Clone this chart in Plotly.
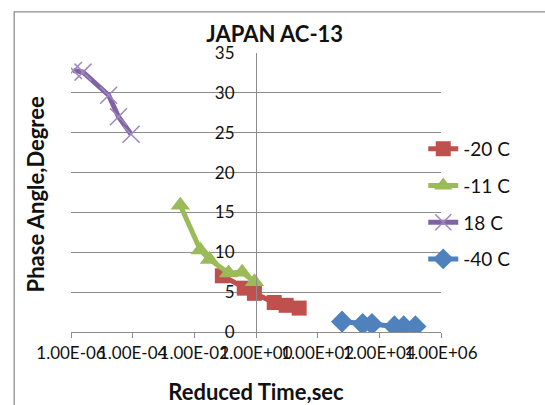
import plotly.graph_objects as go

# ---- data ----
t_m20 = [0.081, 0.417, 0.89, 3.9, 9.5, 25.1]
pa_m20 = [7.05, 5.5, 4.85, 3.7, 3.35, 3.0]

t_m11 = [0.0035, 0.0155, 0.031, 0.129, 0.355, 0.89]
pa_m11 = [15.9, 10.3, 9.1, 7.4, 7.5, 6.3]

t_p18 = [1.2e-6, 2.45e-6, 1.66e-5, 3.47e-5, 8.9e-5]
pa_p18 = [32.8, 32.6, 29.7, 27.0, 24.8]

t_m40 = [617, 2880, 5750, 30900, 61700, 148000]
pa_m40 = [1.3, 1.0, 1.0, 0.7, 0.7, 0.7]

x_tickvals = [1e-6, 1e-4, 1e-2, 1e0, 1e2, 1e4, 1e6]
x_ticktext = ["1.00E-06", "1.00E-04", "1.00E-02", "1.00E+00", "1.00E+02", "1.00E+04", "1.00E+06"]

FONT = "Lato"
RED, GREEN, PURPLE, BLUE = "#C0504D", "#9BBB59", "#8064A2", "#4F81BD"

fig = go.Figure()
fig.add_trace(go.Scatter(x=t_m20, y=pa_m20, name="-20 C", mode="lines+markers",
                         legendgroup="a",
                         line=dict(color=RED, width=5),
                         marker=dict(symbol="square", size=15, color=RED)))
fig.add_trace(go.Scatter(x=t_m11, y=pa_m11, name="-11 C", mode="lines+markers",
                         legendgroup="b",
                         line=dict(color=GREEN, width=5),
                         marker=dict(symbol="triangle-up", size=17, color=GREEN)))
fig.add_trace(go.Scatter(x=t_p18, y=pa_p18, name="18 C", mode="lines+markers",
                         legendgroup="c",
                         line=dict(color=PURPLE, width=5),
                         marker=dict(symbol="x-thin", size=17, color=PURPLE,
                                     line=dict(color="#9D88C2", width=1.5))))
fig.add_trace(go.Scatter(x=t_m40, y=pa_m40, name="-40 C", mode="lines+markers",
                         legendgroup="d",
                         line=dict(color=BLUE, width=5),
                         marker=dict(symbol="diamond", size=17, color=BLUE)))

fig.update_layout(
    width=545, height=405,
    margin=dict(l=71, r=104, t=53, b=73, autoexpand=False),
    paper_bgcolor="white", plot_bgcolor="white",
    font=dict(family=FONT, color="#111111"),
    title=dict(text="JAPAN AC-13", x=0.504, xref="container", y=0.916, yref="container",
               xanchor="center", yanchor="middle",
               font=dict(family=FONT, size=22, weight="bold", color="#111111")),
    xaxis=dict(type="log", range=[-6, 6], tickmode="array", automargin=False,
               tickvals=x_tickvals, ticktext=x_ticktext, tickangle=0,
               showgrid=False, zeroline=False,
               showline=True, linecolor="#8c8c8c", linewidth=1.2,
               ticks="outside", ticklen=5, tickcolor="#8c8c8c", tickwidth=1.2,
               tickfont=dict(family=FONT, size=17, color="#111111"),
               title=dict(text="Reduced Time,sec", standoff=23,
                          font=dict(family=FONT, size=22, weight="bold", color="#111111"))),
    yaxis=dict(range=[0, 35], dtick=5, tick0=0, anchor="free", position=0.5,
               automargin=False,
               showgrid=True, gridcolor="#8c8c8c", gridwidth=1.2, zeroline=False,
               showline=True, linecolor="#8c8c8c", linewidth=1.2,
               ticks="", ticklabelstandoff=18,
               tickfont=dict(family=FONT, size=17, color="#111111")),
    legend=dict(x=0.952, y=0.724, xanchor="left", yanchor="top",
                tracegroupgap=9, bgcolor="rgba(0,0,0,0)",
                font=dict(family=FONT, size=19, color="#111111")),
    annotations=[dict(text="Phase Angle,Degree", xref="paper", yref="paper",
                      x=-0.097, y=0.4935, textangle=-90, showarrow=False,
                      xanchor="center", yanchor="middle",
                      font=dict(family=FONT, size=22, weight="bold", color="#111111"))],
    shapes=[dict(type="rect", xref="paper", yref="paper",
                 x0=-0.1535, x1=1.6, y0=-0.6, y1=1.1477,
                 line=dict(color="#8c8c8c", width=1.3), fillcolor="rgba(0,0,0,0)")],
)

fig.write_html("out.html")
